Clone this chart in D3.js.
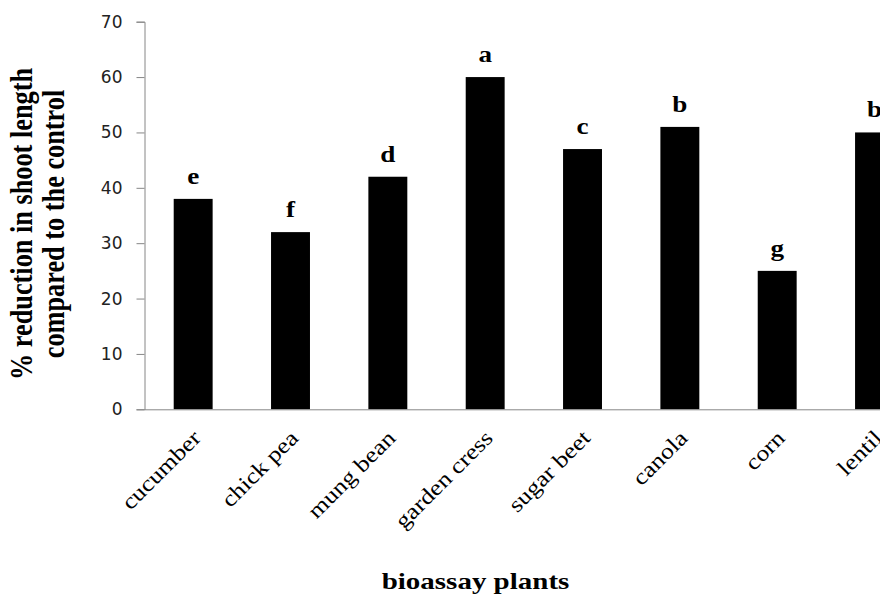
<!DOCTYPE html>
<html>
<head>
<meta charset="utf-8">
<script src="https://cdn.jsdelivr.net/npm/d3@7"></script>
<style>
  html, body { margin: 0; padding: 0; background: #fff; }
  svg { display: block; }
</style>
</head>
<body>
<svg id="chart" width="880" height="595"></svg>
<script>
const categories = ["cucumber", "chick pea", "mung bean", "garden cress", "sugar beet", "canola", "corn", "lentil"];
const values = [38, 32, 42, 60, 47, 51, 25, 50];
const letters = ["e", "f", "d", "a", "c", "b", "g", "b"];
const yTicks = [0, 10, 20, 30, 40, 50, 60, 70];
const yTitleLines = ["% reduction in shoot length", "compared to the control"];
const xTitle = "bioassay plants";

const svg = d3.select("#chart");
svg.append("rect").attr("width", 880).attr("height", 595).attr("fill", "#fff");

const x = d3.scaleBand().domain(categories).range([144.5, 923.2]).paddingInner(0.6).paddingOuter(0.3);
const y = d3.scaleLinear().domain([0, 70]).range([409.3, 21.7]);

const SERIF = "'Liberation Serif', 'Times New Roman', serif";

// bars
svg.append("g").selectAll("rect").data(categories).join("rect")
  .attr("x", d => x(d))
  .attr("y", (d, i) => y(values[i]))
  .attr("width", x.bandwidth())
  .attr("height", (d, i) => y(0) - y(values[i]))
  .attr("fill", "#000");

// letters
svg.append("g").selectAll("text").data(categories).join("text")
  .attr("transform", (d, i) => `translate(${x(d) + x.bandwidth() / 2},${y(values[i]) - 15}) scale(1.18,1)`)
  .attr("text-anchor", "middle")
  .attr("font-family", SERIF)
  .attr("font-weight", "bold")
  .attr("font-size", 23)
  .attr("fill", "#000")
  .text((d, i) => letters[i]);

// y axis
const yAxis = d3.axisLeft(y).tickValues(yTicks).tickSize(8).tickPadding(14);
const gy = svg.append("g").attr("transform", "translate(144.5,0)").call(yAxis);
gy.select(".domain").attr("stroke", "#868686");
gy.selectAll(".tick line").attr("stroke", "#868686");
gy.selectAll(".tick text")
  .attr("font-family", "'DejaVu Sans', sans-serif")
  .attr("font-size", 17)
  .attr("fill", "#222");

// x axis
const xAxis = d3.axisBottom(x).tickSize(0).tickPadding(0);
const gx = svg.append("g").attr("transform", `translate(0,${y(0)})`).call(xAxis);
gx.select(".domain").attr("stroke", "#868686");
gx.selectAll(".tick text")
  .attr("font-family", SERIF)
  .attr("font-size", 22)
  .attr("fill", "#000")
  .attr("text-anchor", "end")
  .attr("dy", 0)
  .attr("y", 0)
  .attr("transform", "translate(9,30) rotate(-45) scale(1.17,1)");

// y title
const yt = svg.append("g").attr("transform", `translate(0,224)`);
yTitleLines.forEach((line, i) => {
  yt.append("text")
    .attr("transform", `translate(${32 + i * 32},0) scale(1.17,1) rotate(-90)`)
    .attr("text-anchor", "middle")
    .attr("font-family", SERIF)
    .attr("font-weight", "bold")
    .attr("font-size", 26.3)
    .attr("fill", "#000")
    .text(line);
});

// x title
svg.append("text")
  .attr("transform", `translate(475.5,589) scale(1.26,1)`)
  .attr("text-anchor", "middle")
  .attr("font-family", SERIF)
  .attr("font-weight", "bold")
  .attr("font-size", 23)
  .attr("fill", "#000")
  .text(xTitle);
</script>
</body>
</html>
